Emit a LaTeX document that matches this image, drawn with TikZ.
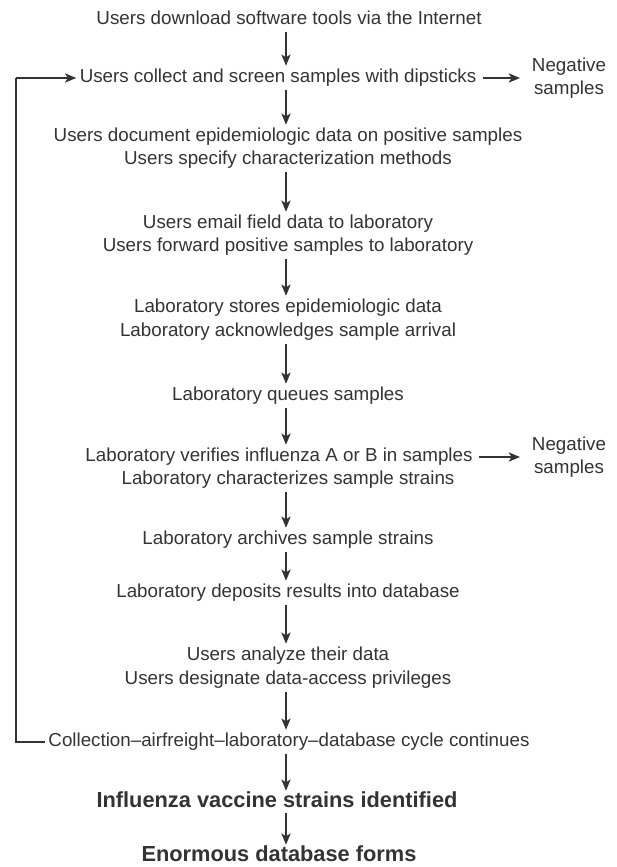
\documentclass[tikz,border=0pt]{standalone}
\usepackage{fontspec}
\setmainfont{Liberation Sans}
\usetikzlibrary{arrows.meta,calc}

\definecolor{ink}{HTML}{333333}

\tikzset{
  stepline/.style={inner sep=2.3pt, text=ink, font=\fontsize{13.35}{16.3}\selectfont,
    text height=9.6pt, text depth=2.8pt},
  goal/.style={inner sep=0.8pt, text=ink, font=\fontsize{15.5}{18}\selectfont\bfseries,
    text height=11pt, text depth=3pt},
  negbox/.style={inner sep=2.3pt, text=ink, align=center, font=\fontsize{13.35}{16.3}\selectfont},
  flow/.style={draw=ink, line width=1.3pt, -{Stealth[length=8pt,width=6.5pt,inset=2pt]}},
  loopline/.style={draw=ink, line width=1.3pt}
}

\begin{document}
\begin{tikzpicture}[x=0.025cm,y=-0.025cm]
                \useasboundingbox (0,0) rectangle (617,867);
                \coordinate (spine) at (286,0);
                \coordinate (corner) at (16,742);

                \node[stepline] (download) at (289,20) {Users download software tools via the Internet};
                \node[stepline] (collect) at (278,78) {Users collect and screen samples with dipsticks};
                \node[negbox] (negA) at (569,78) {Negative\\samples};

                \node[stepline] (document) at (288,137) {Users document epidemiologic data on positive samples};
                \node[stepline] (specify) at (288,160) {Users specify characterization methods};

                \node[stepline] (email) at (288,224) {Users email field data to laboratory};
                \node[stepline] (forward) at (288,247) {Users forward positive samples to laboratory};

                \node[stepline] (stores) at (288,308) {Laboratory stores epidemiologic data};
                \node[stepline] (acknow) at (288,332) {Laboratory acknowledges sample arrival};

                \node[stepline] (queues) at (288,396) {Laboratory queues samples};

                \node[stepline] (verifies) at (279,457) {Laboratory verifies influenza A or B in samples};
                \node[negbox] (negB) at (569,457) {Negative\\samples};
                \node[stepline] (charact) at (288,480) {Laboratory characterizes sample strains};

                \node[stepline] (archives) at (288,540) {Laboratory archives sample strains};

                \node[stepline] (deposits) at (288,593) {Laboratory deposits results into database};

                \node[stepline] (analyze) at (288,656) {Users analyze their data};
                \node[stepline] (designate) at (288,680) {Users designate data-access privileges};

                \node[stepline] (cycle) at (289,742) {Collection--airfreight--laboratory--database cycle continues};

                \node[goal] (vaccine) at (277,802) {Influenza vaccine strains identified};
                \node[goal] (database) at (279,856) {Enormous database forms};

                % main chain
                \path[every edge/.style={flow}]
                (download.south -| spine) edge (collect.north -| spine)
                (collect.south -| spine) edge (document.north -| spine)
                (specify.south -| spine) edge (email.north -| spine)
                (forward.south -| spine) edge (stores.north -| spine)
                (acknow.south -| spine) edge (queues.north -| spine)
                (queues.south -| spine) edge (verifies.north -| spine)
                (charact.south -| spine) edge (archives.north -| spine)
                (archives.south -| spine) edge (deposits.north -| spine)
                (deposits.south -| spine) edge (analyze.north -| spine)
                (designate.south -| spine) edge (cycle.north -| spine)
                (cycle.south -| spine) edge (vaccine.north -| spine)
                (vaccine.south -| spine) edge (database.north -| spine);

                % side exits
                \draw[flow, shorten <=2pt, shorten >=6pt] (collect.east) -- (negA.west |- collect.east);
                \draw[flow, shorten <=2pt, shorten >=6pt] (verifies.east) -- (negB.west |- verifies.east);

                % loop back
                \draw[loopline] (cycle.west) -- (corner) -- (corner |- collect.west);
                \draw[flow] (corner |- collect.west) -- (collect.west);
\end{tikzpicture}
\end{document}
